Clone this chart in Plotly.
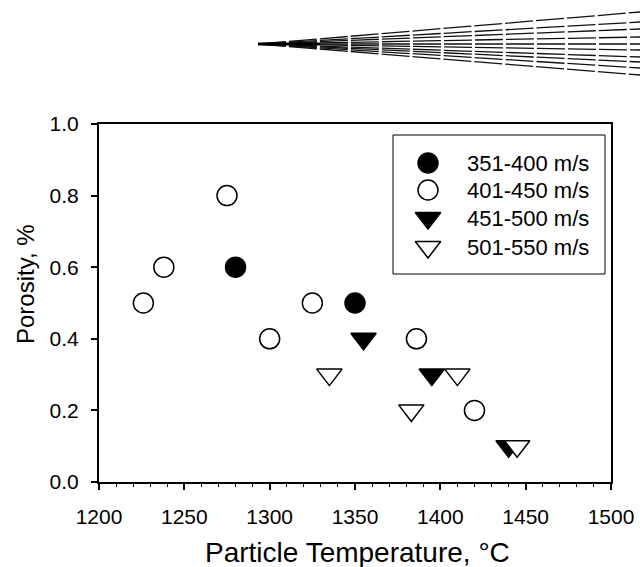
import plotly.graph_objects as go

# ---- data ----
series_names = ["351-400 m/s", "401-450 m/s", "451-500 m/s", "501-550 m/s"]

temp_351_400 = [1280, 1350]
poro_351_400 = [0.6, 0.5]

temp_401_450 = [1226, 1238, 1275, 1300, 1325, 1386, 1420]
poro_401_450 = [0.5, 0.6, 0.8, 0.4, 0.5, 0.4, 0.2]

temp_451_500 = [1355, 1395, 1440]
poro_451_500 = [0.4, 0.3, 0.1]

temp_501_550 = [1335, 1383, 1410, 1445]
poro_501_550 = [0.3, 0.2, 0.3, 0.1]

x_ticks = [1200, 1250, 1300, 1350, 1400, 1450, 1500]
y_ticks = [0.0, 0.2, 0.4, 0.6, 0.8, 1.0]

FONT = "Liberation Sans, Arial, Helvetica, sans-serif"
W, H = 640, 567
L, R, T, B = 99, 611, 124, 482  # plot area in pixels


def px_to_paper(px, py):
    return (px - L) / (R - L), (B - py) / (B - T)


styles = [
    dict(symbol="circle", size=20, color="black", line=dict(color="black", width=1.5)),
    dict(symbol="circle", size=20, color="white", line=dict(color="black", width=1.5)),
    dict(symbol="triangle-down", size=22, color="black", line=dict(color="black", width=1.5)),
    dict(symbol="triangle-down", size=22, color="white", line=dict(color="black", width=1.5)),
]
xs = [temp_351_400, temp_401_450, temp_451_500, temp_501_550]
ys = [poro_351_400, poro_401_450, poro_451_500, poro_501_550]

fig = go.Figure()
for name, x, y, st in zip(series_names, xs, ys, styles):
    fig.add_trace(go.Scatter(x=x, y=y, mode="markers", name=name, marker=st,
                             showlegend=False, cliponaxis=False))

# ---- custom legend (large symbols) on an overlay paper-like axis ----
leg_rows_px = [163, 190, 218, 247]
leg_sym_x = px_to_paper(428, 0)[0]
leg_txt_x = px_to_paper(465, 0)[0]
annotations = []
for name, st, rpx in zip(series_names, styles, leg_rows_px):
    yy = px_to_paper(0, rpx)[1]
    fig.add_trace(go.Scatter(x=[leg_sym_x], y=[yy], mode="markers", marker=st,
                             xaxis="x2", yaxis="y2", showlegend=False,
                             hoverinfo="skip", cliponaxis=False))
    annotations.append(dict(x=leg_txt_x, y=yy, xref="paper", yref="paper",
                            text=name, showarrow=False, xanchor="left",
                            yanchor="middle", font=dict(size=22, color="black", family=FONT)))

shapes = []
lx0, ly0 = px_to_paper(393, 274)
lx1, ly1 = px_to_paper(605, 135)
shapes.append(dict(type="rect", xref="paper", yref="paper", x0=lx0, y0=ly0, x1=lx1, y1=ly1,
                   line=dict(color="black", width=1), fillcolor="rgba(0,0,0,0)", layer="below"))

# ---- decorative fan of lines at top (scan artefact) ----
apex = px_to_paper(258, 44)
fan_end_y = [12, 22, 29, 37, 44, 50, 57, 62, 68, 75]
for ey in fan_end_y:
    ex, eyp = px_to_paper(640, ey)
    shapes.append(dict(type="line", xref="paper", yref="paper",
                       x0=apex[0], y0=apex[1], x1=ex, y1=eyp,
                       line=dict(color="#111111", width=1.3, dash="28px,3px")))
# dark apex spike
sx, sy = px_to_paper(320, 44)
shapes.append(dict(type="line", xref="paper", yref="paper", x0=apex[0], y0=apex[1],
                   x1=sx, y1=sy, line=dict(color="black", width=3)))

# ---- axis titles as annotations ----
annotations.append(dict(x=px_to_paper(357, 0)[0], y=px_to_paper(0, 552)[1], xref="paper", yref="paper",
                        text="Particle Temperature, °C", showarrow=False,
                        xanchor="center", yanchor="middle",
                        font=dict(size=28, color="black", family=FONT)))
annotations.append(dict(x=px_to_paper(25, 0)[0], y=px_to_paper(0, 284)[1], xref="paper", yref="paper",
                        text="Porosity, %", showarrow=False, textangle=-90,
                        xanchor="center", yanchor="middle",
                        font=dict(size=24, color="black", family=FONT)))

fig.update_layout(
    width=W, height=H, autosize=False,
    margin=dict(l=L, r=W - R, t=T, b=H - B, pad=0, autoexpand=False),
    paper_bgcolor="white", plot_bgcolor="white",
    font=dict(family=FONT, color="black", size=20),
    showlegend=False,
    xaxis=dict(range=[1200, 1500], tickvals=x_ticks, ticktext=[str(v) for v in x_ticks],
               showgrid=False, zeroline=False, showline=True, linecolor="black", linewidth=2,
               mirror=True, ticks="outside", ticklen=6, tickwidth=2, tickcolor="black",
               automargin=False,
               tickfont=dict(size=21, family=FONT, color="black"), ticklabelstandoff=9,
               minor=dict(dtick=10, ticks="outside", ticklen=3, tickwidth=1, tickcolor="black")),
    yaxis=dict(range=[0, 1], tickvals=y_ticks, ticktext=[f"{v:.1f}" for v in y_ticks],
               showgrid=False, zeroline=False, showline=True, linecolor="black", linewidth=2,
               mirror=True, ticks="outside", ticklen=6, tickwidth=2, tickcolor="black",
               automargin=False,
               tickfont=dict(size=21, family=FONT, color="black"), ticklabelstandoff=8),
    xaxis2=dict(range=[0, 1], overlaying="x", visible=False, fixedrange=True, automargin=False),
    yaxis2=dict(range=[0, 1], overlaying="y", visible=False, fixedrange=True, automargin=False),
    shapes=shapes,
    annotations=annotations,
)

fig.write_html("out.html", config={"displayModeBar": False, "responsive": False},
               post_script="document.body.style.margin='0';document.body.style.overflow='hidden';")
